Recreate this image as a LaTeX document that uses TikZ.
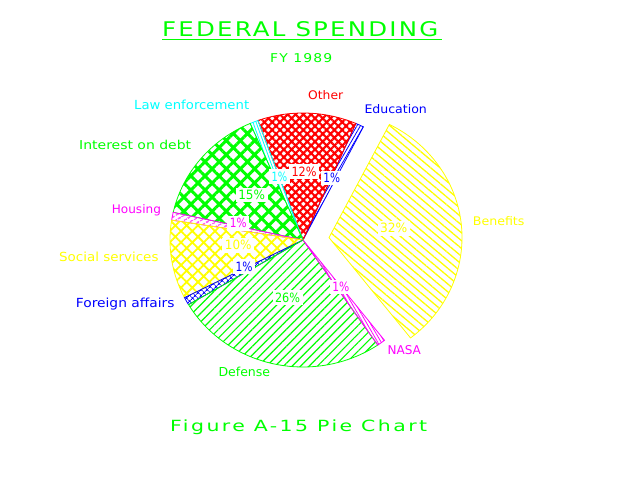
\documentclass[tikz,border=0pt]{standalone}
\usepackage{fontspec}
\setmainfont{DejaVu Sans}
\newfontfamily\ttlfont[LetterSpace=9]{DejaVu Sans}
\newfontfamily\capfont[LetterSpace=12]{DejaVu Sans}
\newfontfamily\fyfont[LetterSpace=8]{DejaVu Sans}
\usetikzlibrary{patterns.meta}
\definecolor{pgreen}{RGB}{0,255,0}
\definecolor{pyellow}{RGB}{255,255,0}
\definecolor{pred}{RGB}{255,0,0}
\definecolor{pblue}{RGB}{0,0,255}
\definecolor{pmag}{RGB}{255,0,255}
\definecolor{pcyan}{RGB}{0,255,255}
\newcommand{\lab}[3]{\resizebox{#1pt}{#2pt}{#3}}
\newcommand{\pieslice}[4]{\draw[slc,#4] (#1) -- ++(#2:133pt and 127pt) arc[start angle=#2,end angle=#3,x radius=133pt,y radius=127pt] -- cycle;}
\begin{document}
\begin{tikzpicture}[x=1pt,y=1pt,
  lbl/.style={inner sep=0pt,anchor=base west},
  pct/.style={fill=white,inner sep=2.5pt,anchor=center},
  slc/.style={line width=0.8pt}]
\useasboundingbox (0,0) rectangle (640,480);
\fill[white] (0,0) rectangle (640,480);
\coordinate (C) at (303,240);
\coordinate (CB) at (329,242.4);
% slices
\pieslice{CB}{-52.2}{63}{draw=pyellow,pattern={Lines[angle=-40,distance=6pt,line width=1.3pt]},pattern color=pyellow}
\pieslice{C}{63}{66.6}{draw=pblue,pattern={Lines[angle=60,distance=3pt,line width=0.8pt]},pattern color=pblue}
\pieslice{C}{66.6}{109.8}{draw=pred,pattern={Hatch[angle=45,distance=5.5pt,line width=2.1pt]},pattern color=pred}
\pieslice{C}{109.8}{113.4}{draw=pcyan,pattern={Lines[angle=110,distance=3pt,line width=0.8pt]},pattern color=pcyan}
\pieslice{C}{113.4}{167.4}{draw=pgreen,pattern={Hatch[angle=45,distance=10pt,line width=3pt]},pattern color=pgreen}
\pieslice{C}{167.4}{171}{draw=pmag,pattern={Lines[angle=30,distance=4pt,line width=1.2pt]},pattern color=pmag}
\pieslice{C}{171}{207}{draw=pyellow,pattern={Hatch[angle=45,distance=8pt,line width=1.8pt]},pattern color=pyellow}
\pieslice{C}{207}{210.6}{draw=pblue,pattern={Hatch[angle=45,distance=4pt,line width=1pt]},pattern color=pblue}
\pieslice{C}{210.6}{304.2}{draw=pgreen,pattern={Lines[angle=45,distance=6pt,line width=1.2pt]},pattern color=pgreen}
\pieslice{C}{304.2}{307.8}{draw=pmag,pattern={Lines[angle=-60,distance=3pt,line width=0.8pt]},pattern color=pmag}
% titles
\node[lbl,text=pgreen] (title) at (162,443.3) {\lab{276}{15}{\ttlfont FEDERAL SPENDING}};
\coordinate (ulA) at (162,440.7);
\coordinate (ulB) at (442,440.7);
\draw[pgreen,line width=1pt] (ulA) -- (ulB);
\node[lbl,text=pgreen] (fy) at (270,417.7) {\lab{62}{9}{\fyfont FY 1989}};
\node[lbl,text=pgreen] (caption) at (170,48.3) {\lab{257}{11.7}{\capfont Figure A-15 Pie Chart}};
% slice labels
\node[lbl,text=pcyan] (llaw) at (134,370) {\lab{115}{9.5}{Law enforcement}};
\node[lbl,text=pgreen] (lint) at (79,330) {\lab{112}{9.3}{Interest on debt}};
\node[lbl,text=pmag] (lhou) at (111.7,266.7) {\lab{49}{9}{Housing}};
\node[lbl,text=pred] (loth) at (308,380) {\lab{35}{9}{Other}};
\node[lbl,text=pblue] (ledu) at (364.3,366) {\lab{62.4}{9}{Education}};
\node[lbl,text=pyellow] (lben) at (472.7,254.3) {\lab{51.6}{9}{Benefits}};
\node[lbl,text=pmag] (lnasa) at (387.3,126) {\lab{33.4}{9}{NASA}};
\node[lbl,text=pyellow] (lsoc) at (59,218.3) {\lab{99.3}{9.5}{Social services}};
\node[lbl,text=pblue] (lfor) at (75.7,172.7) {\lab{98.6}{9.5}{Foreign affairs}};
\node[lbl,text=pgreen] (ldef) at (218.3,103.3) {\lab{51.7}{9.4}{Defense}};
% percentages
\node[pct,text=pred] (p12) at (304,308.3) {\lab{25}{9.5}{12\%}};
\node[pct,text=pcyan] (p1law) at (279.5,303.3) {\lab{15.6}{9.5}{1\%}};
\node[pct,text=pblue] (p1edu) at (331.7,302) {\lab{16.7}{9.5}{1\%}};
\node[pct,text=pgreen] (p15) at (251.7,285) {\lab{26.7}{9.5}{15\%}};
\node[pct,text=pmag] (p1hou) at (238.3,256.7) {\lab{16.7}{9.5}{1\%}};
\node[pct,text=pyellow] (p10) at (238.3,234.7) {\lab{26.7}{9.5}{10\%}};
\node[pct,text=pblue] (p1for) at (244,213.3) {\lab{17}{9.5}{1\%}};
\node[pct,text=pgreen] (p26) at (287.5,182.3) {\lab{25}{9.5}{26\%}};
\node[pct,text=pmag] (p1nasa) at (340.8,193) {\lab{17}{9.5}{1\%}};
\node[pct,text=pyellow] (p32) at (393.7,251.7) {\lab{27.3}{9.5}{32\%}};
\end{tikzpicture}
\end{document}
